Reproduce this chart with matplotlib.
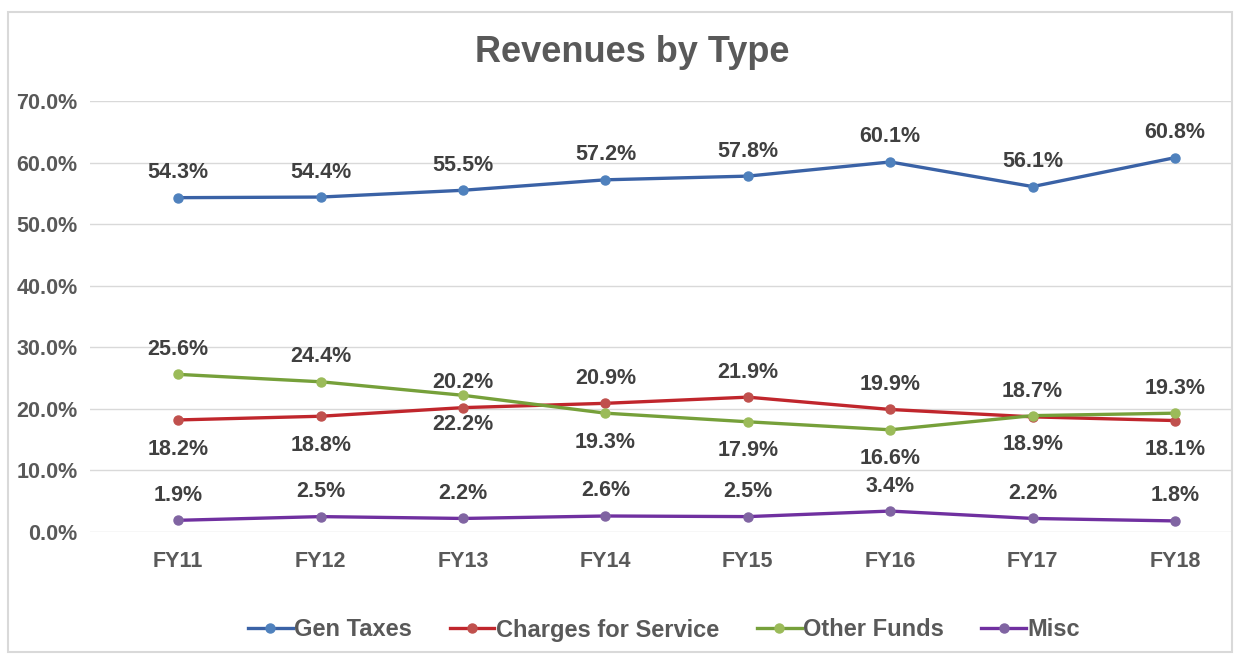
import numpy as np
import matplotlib.pyplot as plt
from matplotlib.patches import Rectangle

plt.rcParams['font.family'] = ['Liberation Sans', 'DejaVu Sans']

# 数据
years = ['FY11', 'FY12', 'FY13', 'FY14', 'FY15', 'FY16', 'FY17', 'FY18']
gen_taxes = [54.3, 54.4, 55.5, 57.2, 57.8, 60.1, 56.1, 60.8]
charges = [18.2, 18.8, 20.2, 20.9, 21.9, 19.9, 18.7, 18.1]
other_funds = [25.6, 24.4, 22.2, 19.3, 17.9, 16.6, 18.9, 19.3]
misc = [1.9, 2.5, 2.2, 2.6, 2.5, 3.4, 2.2, 1.8]

# 标签位置 (1 = 上方, -1 = 下方)
charges_side = [-1, -1, 1, 1, 1, 1, 1, -1]
other_side = [1, 1, -1, -1, -1, -1, -1, 1]

series = [
    ('Gen Taxes', gen_taxes, '#3A62A6', '#4F81BD', [1] * 8),
    ('Charges for Service', charges, '#C0262C', '#C0504D', charges_side),
    ('Other Funds', other_funds, '#76A03A', '#9BBB59', other_side),
    ('Misc', misc, '#7030A0', '#8064A2', [1] * 8),
]

fig = plt.figure(figsize=(12.39, 6.55), dpi=100)
ax = fig.add_axes([90 / 1239, 1 - 532 / 655, (1232 - 90) / 1239, (532 - 101) / 655])

x = np.arange(len(years))
handles = []
for name, vals, lc, mc, side in series:
    h, = ax.plot(x, vals, color=lc, linewidth=2.4, marker='o', markersize=6.5,
                 markerfacecolor=mc, markeredgecolor=mc, label=name, zorder=3)
    handles.append(h)
    for xi, v, s in zip(x, vals, side):
        off = 18 if s > 0 else -21
        ax.annotate(f'{v:.1f}%', (xi, v), xytext=(0, off), textcoords='offset points',
                    ha='center', va='center', fontsize=15.5, fontweight='bold',
                    color='#404040', zorder=4)

ax.set_xlim(-0.62, 7.4)
ax.set_ylim(0, 70)
ax.set_yticks(np.arange(0, 71, 10))
ax.set_yticklabels([f'{v:.1f}%' for v in np.arange(0, 71, 10)])
ax.set_xticks(x)
ax.set_xticklabels(years)
ax.tick_params(axis='both', length=0, labelsize=15.5, colors='#595959')
ax.tick_params(axis='y', pad=9)
ax.tick_params(axis='x', pad=14)
for lab in ax.get_xticklabels() + ax.get_yticklabels():
    lab.set_fontweight('bold')
ax.grid(axis='y', color='#D9D9D9', linewidth=1)
ax.set_axisbelow(True)
for sp in ax.spines.values():
    sp.set_visible(False)

fig.text(632 / 1239, 1 - 52 / 655, 'Revenues by Type', ha='center', va='center',
         fontsize=26, fontweight='bold', color='#595959')

leg = fig.legend(handles=handles, loc='center', bbox_to_anchor=(664 / 1239, 1 - 630 / 655),
                 ncol=4, frameon=False, prop={'size': 17, 'weight': 'bold'},
                 handlelength=1.9, handletextpad=0.05, columnspacing=1.6)
for t in leg.get_texts():
    t.set_color('#595959')

fig.patches.append(Rectangle((8 / 1239, 1 - 652 / 655), (1232 - 8) / 1239, (652 - 12) / 655,
                             transform=fig.transFigure, fill=False,
                             edgecolor='#D9D9D9', linewidth=1.5))

fig.savefig('out.png', dpi=100)
